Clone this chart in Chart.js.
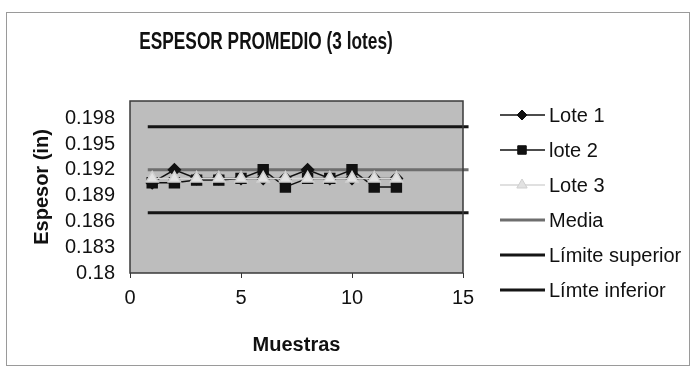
<!DOCTYPE html>
<html>
<head>
<meta charset="utf-8">
<script src="https://cdn.jsdelivr.net/npm/chart.js@4.4.1/dist/chart.umd.min.js"></script>
<style>
  html, body { margin: 0; padding: 0; background: #fff; }
  #wrap { position: relative; width: 693px; height: 369px; }
</style>
</head>
<body>
<div id="wrap"><canvas id="grafica" width="693" height="369"></canvas></div>
<script>
// datos
const muestras = [1, 2, 3, 4, 5, 6, 7, 8, 9, 10, 11, 12];
const lote1 = [0.1905, 0.192, 0.191, 0.191, 0.191, 0.191, 0.191, 0.192, 0.191, 0.191, 0.191, 0.191];
const lote2 = [0.1905, 0.1905, 0.1908, 0.1908, 0.191, 0.192, 0.190, 0.191, 0.191, 0.192, 0.190, 0.190];
const lote3 = [0.191, 0.191, 0.191, 0.191, 0.191, 0.191, 0.191, 0.191, 0.191, 0.191, 0.191, 0.191];
const limitesX = [0.8, 15.25];
const media = [0.192, 0.192];
const limiteSuperior = [0.197, 0.197];
const limiteInferior = [0.187, 0.187];
const yTicks = [0.18, 0.183, 0.186, 0.189, 0.192, 0.195, 0.198];
const xTicks = [0, 5, 10, 15];

const puntos = (xs, ys) => xs.map((x, i) => ({ x: x, y: ys[i] }));

const fuente = "'Liberation Sans', Arial, sans-serif";

const marco = {
    id: 'marco',
    beforeDraw(chart) {
        const ctx = chart.ctx;
        const a = chart.chartArea;
        ctx.save();
        ctx.strokeStyle = '#9a9a9a';
        ctx.lineWidth = 1;
        ctx.strokeRect(6.5, 12.5, 683, 353);
        ctx.fillStyle = '#bdbdbd';
        ctx.fillRect(a.left, a.top, a.right - a.left, a.bottom - a.top);
        ctx.restore();
    },
    afterDraw(chart) {
        const ctx = chart.ctx;
        const a = chart.chartArea;
        ctx.save();
        ctx.strokeStyle = '#3a3a3a';
        ctx.lineWidth = 1.5;
        ctx.strokeRect(a.left, a.top, a.right - a.left, a.bottom - a.top);

        // titulo (letra estrecha)
        ctx.save();
        ctx.fillStyle = '#111';
        ctx.font = 'bold 24px ' + fuente;
        ctx.textAlign = 'center';
        ctx.textBaseline = 'middle';
        ctx.translate(266, 42);
        ctx.scale(0.72, 1);
        ctx.fillText('ESPESOR PROMEDIO (3 lotes)', 0, 0);
        ctx.restore();

        // leyenda
        ctx.font = '20px ' + fuente;
        ctx.textAlign = 'left';
        ctx.textBaseline = 'middle';
        chart.data.datasets.forEach((ds, i) => {
            const y = 115 + i * 35;
            ctx.strokeStyle = ds.borderColor;
            ctx.lineWidth = ds.borderWidth;
            ctx.beginPath();
            ctx.moveTo(500, y);
            ctx.lineTo(545, y);
            ctx.stroke();
            if (ds.pointRadius > 0) {
                ctx.fillStyle = ds.pointBackgroundColor;
                ctx.strokeStyle = ds.pointBorderColor;
                ctx.lineWidth = 1;
                Chart.helpers.drawPoint(ctx, { pointStyle: ds.pointStyle, rotation: 0, radius: ds.pointRadius - 1, borderWidth: 1 }, 522, y);
            }
            ctx.fillStyle = '#111';
            ctx.fillText(ds.label, 549, y + 1);
        });
        ctx.restore();
    }
};

new Chart(document.getElementById('grafica').getContext('2d'), {
    type: 'line',
    data: {
        datasets: [
            {
                label: 'Lote 1', data: puntos(muestras, lote1), order: 3,
                borderColor: '#111', borderWidth: 1.5,
                pointStyle: 'rectRot', pointRadius: 6,
                pointBackgroundColor: '#111', pointBorderColor: '#111'
            },
            {
                label: 'lote 2', data: puntos(muestras, lote2), order: 2,
                borderColor: '#111', borderWidth: 1.5,
                pointStyle: 'rect', pointRadius: 7,
                pointBackgroundColor: '#111', pointBorderColor: '#111'
            },
            {
                label: 'Lote 3', data: puntos(muestras, lote3), order: 1,
                borderColor: '#d6d6d6', borderWidth: 1.5,
                pointStyle: 'triangle', pointRadius: 7,
                pointBackgroundColor: '#e2e2e2', pointBorderColor: '#cfcfcf'
            },
            {
                label: 'Media', data: puntos(limitesX, media), order: 4, clip: false,
                borderColor: '#6e6e6e', borderWidth: 3, pointRadius: 0,
                pointStyle: 'circle', pointBackgroundColor: '#6e6e6e', pointBorderColor: '#6e6e6e'
            },
            {
                label: 'Límite superior', data: puntos(limitesX, limiteSuperior), order: 5, clip: false,
                borderColor: '#151515', borderWidth: 3, pointRadius: 0,
                pointStyle: 'circle', pointBackgroundColor: '#151515', pointBorderColor: '#151515'
            },
            {
                label: 'Límte inferior', data: puntos(limitesX, limiteInferior), order: 6, clip: false,
                borderColor: '#151515', borderWidth: 3, pointRadius: 0,
                pointStyle: 'circle', pointBackgroundColor: '#151515', pointBorderColor: '#151515'
            }
        ]
    },
    options: {
        responsive: false,
        animation: false,
        layout: { padding: { top: 101, right: 230, bottom: 0, left: 0 } },
        plugins: {
            legend: { display: false },
            title: { display: false },
            tooltip: { enabled: false }
        },
        scales: {
            x: {
                type: 'linear', min: 0, max: 15,
                afterFit: (s) => { s.height = 96; },
                afterBuildTicks: (s) => { s.ticks = xTicks.map(v => ({ value: v })); },
                grid: { display: true, drawOnChartArea: false, drawTicks: true, tickLength: 5, color: '#333' },
                border: { display: false },
                ticks: { color: '#111', padding: 8, maxRotation: 0, font: { family: fuente, size: 20 } },
                title: {
                    display: true, text: 'Muestras', color: '#111',
                    font: { family: fuente, size: 20, weight: 'bold' },
                    padding: { top: 0, bottom: 12 }
                }
            },
            y: {
                type: 'linear', min: 0.18, max: 0.2,
                afterFit: (s) => { s.width = 130; },
                afterBuildTicks: (s) => { s.ticks = yTicks.map(v => ({ value: v })); },
                grid: { display: false, drawTicks: false, tickLength: 0 },
                border: { display: false },
                ticks: {
                    color: '#111', padding: 15,
                    font: { family: fuente, size: 20 },
                    callback: (v) => String(v)
                },
                title: {
                    display: true, text: 'Espesor (in)', color: '#111',
                    font: { family: fuente, size: 20, weight: 'bold' },
                    padding: { top: 30, bottom: 0 }
                }
            }
        }
    },
    plugins: [marco]
});
</script>
</body>
</html>
